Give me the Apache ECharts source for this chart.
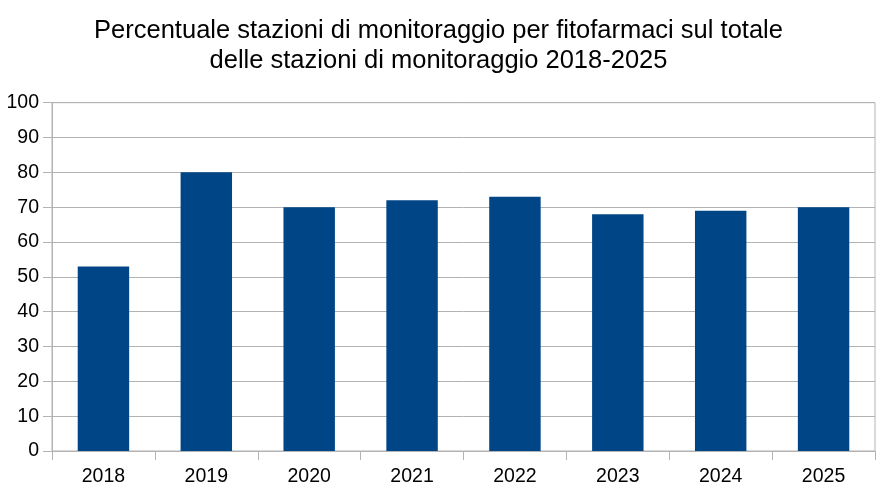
<!DOCTYPE html>
<html><head><meta charset="utf-8">
<script src="https://cdn.jsdelivr.net/npm/echarts@6/dist/echarts.min.js"></script>
<style>html,body{margin:0;padding:0;background:#fff;}#c{width:877px;height:492px;}</style>
</head><body><div id="c"></div>
<script>
const titleText = "Percentuale stazioni di monitoraggio per fitofarmaci sul totale\ndelle stazioni di monitoraggio 2018-2025";
const categories = ["2018","2019","2020","2021","2022","2023","2024","2025"];
const values = [53, 80, 70, 72, 73, 68, 69, 70];
const yTicks = { min: 0, max: 100, interval: 10 };

const chart = echarts.init(document.getElementById('c'), null, {renderer:'canvas'});
chart.setOption({
  animation: false,
  backgroundColor: '#ffffff',
  title: {
    text: titleText,
    left: 'center',
    top: 11,
    textStyle: { fontFamily: 'Liberation Sans', fontSize: 25.5, fontWeight: 'normal', color: '#000', lineHeight: 30 }
  },
  grid: { left: 52, right: 2, top: 102.7, bottom: 41, containLabel: false, show: true, borderColor: '#b3b3b3', borderWidth: 1 },
  xAxis: {
    type: 'category',
    data: categories,
    axisLine: { show: true, lineStyle: { color: '#b3b3b3', width: 1 } },
    axisTick: { show: true, length: 9, alignWithLabel: false, lineStyle: { color: '#b3b3b3' } },
    axisLabel: { fontFamily: 'Liberation Sans', fontSize: 19.5, color: '#000', margin: 16 },
    splitLine: { show: false }
  },
  yAxis: {
    type: 'value',
    min: yTicks.min, max: yTicks.max, interval: yTicks.interval,
    axisLine: { show: true, lineStyle: { color: '#b3b3b3', width: 1 } },
    axisTick: { show: true, length: 9, lineStyle: { color: '#b3b3b3' } },
    axisLabel: { fontFamily: 'Liberation Sans', fontSize: 19.5, color: '#000', margin: 13 },
    splitLine: { show: true, lineStyle: { color: '#b3b3b3', width: 1 } }
  },
  series: [{
    type: 'bar',
    data: values,
    barWidth: '50%',
    itemStyle: { color: '#004586' }
  }]
});
</script>
</body></html>
